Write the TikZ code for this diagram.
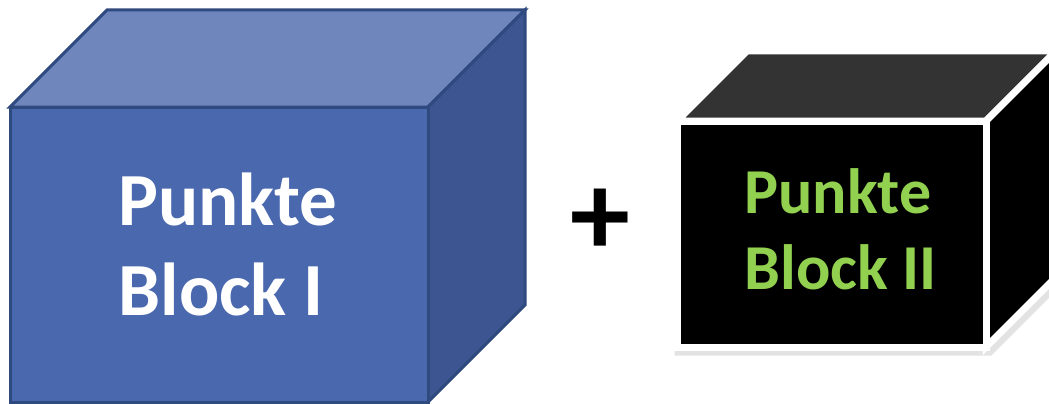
\documentclass[tikz,border=0pt]{standalone}
\usepackage{fontspec}
\setmainfont{Carlito}
\usetikzlibrary{positioning,calc}
\definecolor{blufront}{HTML}{4A68AE}
\definecolor{blutop}{HTML}{6F86BD}
\definecolor{bluside}{HTML}{3D5590}
\definecolor{bluedge}{HTML}{2F4A7E}
\definecolor{punktgreen}{HTML}{92D050}
\definecolor{blktop}{HTML}{333333}
\begin{document}
\begin{tikzpicture}[x=1pt,y=-1pt,line join=miter]
\tikzstyle{bluface}=[draw=bluedge,line width=3pt]
\tikzstyle{blkface}=[draw=white,line width=7pt]
\tikzstyle{lbl}=[align=left,anchor=west,font=\bfseries\fontsize{75}{90}\selectfont]
\useasboundingbox (0,0) rectangle (1049,404);
\clip (0,0) rectangle (1049,404);
% block I (blue cube)
\path[bluface,fill=blutop] (10,107) -- (107,10) -- (525,10) -- (428,107) -- cycle;
\path[bluface,fill=bluside] (428,107) -- (525,10) -- (525,305) -- (428,402) -- cycle;
\path[bluface,fill=blufront] (10,107) rectangle (428,402);
\node[lbl,text=white] (blockI) at (115,244) {Punkte\\Block I};
% plus sign
\node[font=\bfseries\fontsize{120}{120}\selectfont] (plus) at (600,222) {+};
% block II (black cube)
\draw[line width=7pt,gray!22] (678,127) -- (678,352) -- (990,352) -- (1060,282);
\path[blkface,fill=blktop] (677,121) -- (747,51) -- (1056,51) -- (986,121) -- cycle;
\path[blkface,fill=black] (986,121) -- (1056,51) -- (1056,277) -- (986,347) -- cycle;
\path[blkface,fill=black] (677,121) rectangle (986,347);
\node[lbl,text=punktgreen,font=\bfseries\fontsize{64}{76}\selectfont] (blockII) at (741,229) {Punkte\\Block II};
\end{tikzpicture}
\end{document}
